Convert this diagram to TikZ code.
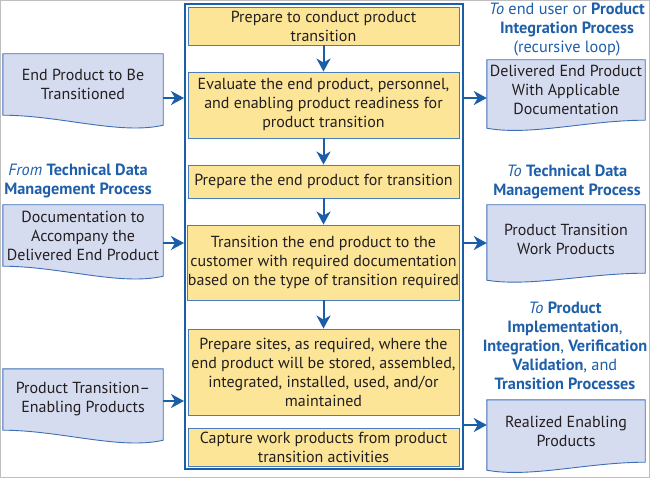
\documentclass[tikz,border=0pt]{standalone}
\usepackage{fontspec}
\setmainfont{PT Sans}
\usetikzlibrary{arrows.meta,backgrounds}
\definecolor{fblue}{HTML}{1A5EA8}
\definecolor{lblue}{HTML}{1F5FAA}
\definecolor{yfill}{HTML}{FCE596}
\definecolor{yline}{HTML}{4A7EBB}
\definecolor{dfill}{HTML}{D6DCF0}
\definecolor{dline}{HTML}{3D6FB6}
\definecolor{txt}{HTML}{231F20}
\tikzset{
  proc/.style={draw=yline, fill=yfill, line width=0.9pt, minimum width=271pt,
    align=center, inner sep=0pt, text=txt,
    font=\fontsize{16}{19}\selectfont},
  docnode/.style={minimum width=160pt, align=center, inner sep=0pt, text=txt,
    font=\fontsize{16}{19}\selectfont},
  docshape/.style={draw=dline, fill=dfill, line width=0.9pt},
  lab/.style={text=lblue, align=center, inner sep=0pt,
    font=\fontsize{16.3}{19}\selectfont},
  arr/.style={draw=fblue, line width=2pt,
    -{Stealth[length=13pt,width=14pt,inset=4pt]}},
}
\newcommand\leftdoc[2]{% name, drop
  \path[docshape] (#1.north west) -- (#1.north east) -- ([shift={(0,#2)}]#1.south east)
    .. controls +(-43,#2) and +(57,0) .. (#1.south west) -- cycle;}
\newcommand\rightdoc[2]{% name, drop
  \path[docshape] (#1.north west) -- (#1.north east) -- (#1.south east)
    .. controls +(-57,0) and +(43,#2) .. ([shift={(0,#2)}]#1.south west) -- cycle;}
\begin{document}
\begin{tikzpicture}[x=1pt,y=-1pt]
\useasboundingbox (0,0) rectangle (650,478);
\draw[black!25, line width=1pt] (0.5,0.5) rectangle (649.5,477.5);

% central frame
\node[draw=fblue, line width=2pt, minimum width=278pt, minimum height=465pt, inner sep=0pt] (frame) at (324,236.5) {};

% process boxes
\node[proc, minimum height=38pt] (b1) at (323.5,26) {Prepare to conduct product\\transition};
\node[proc, minimum height=66pt] (b2) at (323.5,105) {Evaluate the end product, personnel,\\and enabling product readiness for\\product transition};
\node[proc, minimum height=33pt] (b3) at (323.5,181.5) {Prepare the end product for transition};
\node[proc, minimum height=75pt] (b4) at (323.5,262.5) {Transition the end product to the\\customer with required documentation\\based on the type of transition required};
\node[proc, minimum height=86pt] (b5) at (323.5,372) {Prepare sites, as required, where the\\end product will be stored, assembled,\\integrated, installed, used, and/or\\maintained};
\node[proc, minimum height=38pt] (b6) at (323.5,447) {Capture work products from product\\transition activities};

\draw[arr] (b1) -- (b2);
\draw[arr] (b2) -- (b3);
\draw[arr] (b3) -- (b4);
\draw[arr] (b4) -- (b5);

% left documents
\node[docnode, minimum height=61pt] (d1) at (83,84.5) {End Product to Be\\Transitioned};
\node[docnode, minimum height=61pt] (d2) at (83,235.5) {Documentation to\\Accompany the\\Delivered End Product};
\node[docnode, minimum height=61pt] (d3) at (83,399.5) {Product Transition–\\Enabling Products};
% right documents
\node[docnode, minimum width=158pt, minimum height=60pt] (r1) at (566,90) {Delivered End Product\\With Applicable\\Documentation};
\node[docnode, minimum width=158pt, minimum height=68pt] (r2) at (566,239) {Product Transition\\Work Products};
\node[docnode, minimum width=158pt, minimum height=62pt] (r3) at (566,431) {Realized Enabling\\Products};

\begin{scope}[on background layer]
\leftdoc{d1}{10}
\leftdoc{d2}{10}
\leftdoc{d3}{10}
\rightdoc{r1}{8}
\rightdoc{r2}{7}
\rightdoc{r3}{8}
\end{scope}

% labels
\node[lab] (l1) at (567,30) {\textit{To} end user or \textbf{Product}\\\textbf{Integration Process}\\(recursive loop)};
\node[lab] (l2) at (78,181) {\textit{From} \textbf{Technical Data}\\\textbf{Management Process}};
\node[lab] (l3) at (567,181.5) {\textit{To} \textbf{Technical Data}\\\textbf{Management Process}};
\node[lab] (l4) at (565,345.5) {\textit{To} \textbf{Product}\\\textbf{Implementation},\\\textbf{Integration}, \textbf{Verification}\\\textbf{Validation}, and\\\textbf{Transition Processes}};

% input / output arrows
\coordinate (ya) at (0,98);
\coordinate (yb) at (0,243);
\coordinate (yc) at (0,401);
\coordinate (yd) at (0,425);
\draw[arr] (d1.east |- ya) -- (frame.west |- ya);
\draw[arr] (d2.east |- yb) -- (frame.west |- yb);
\draw[arr] (d3.east |- yc) -- (frame.west |- yc);
\draw[arr] (frame.east |- ya) -- (r1.west |- ya);
\draw[arr] (frame.east |- yb) -- (r2.west |- yb);
\draw[arr] (frame.east |- yd) -- (r3.west |- yd);
\end{tikzpicture}
\end{document}
